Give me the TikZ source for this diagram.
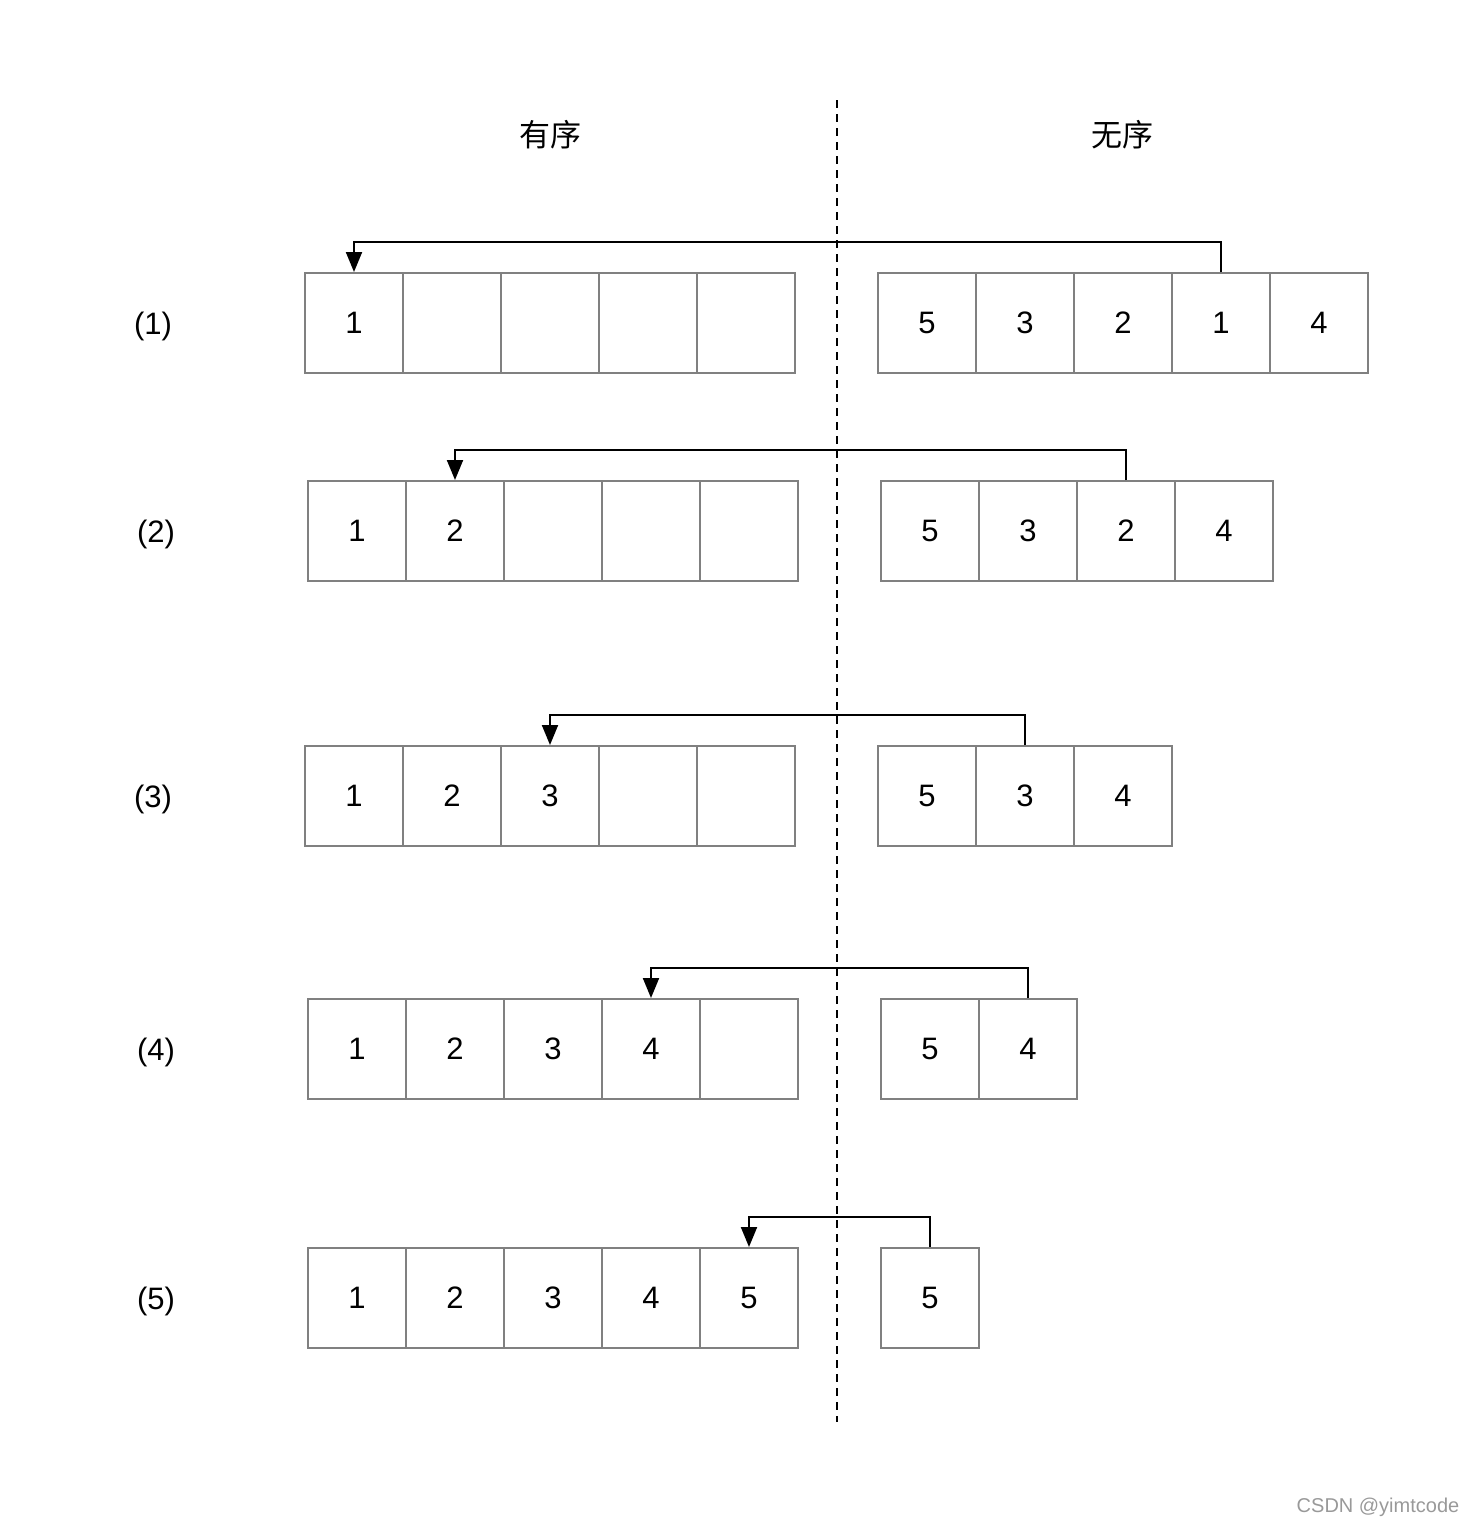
\documentclass[tikz,border=0pt]{standalone}
\usepackage{fontspec}
\setmainfont{Liberation Sans}
\newfontfamily\cjk{Noto Sans CJK SC}
\usetikzlibrary{arrows.meta}

\begin{document}
\begin{tikzpicture}[
  x=0.5pt, y=-0.5pt,
  cell/.style={draw=black!50, line width=1pt, minimum width=49pt, minimum height=50pt, inner sep=0pt, font=\fontsize{15.5}{18}\selectfont},
  tag/.style={font=\fontsize{15.5}{18}\selectfont, yshift=-1.5pt},
  head/.style={font=\cjk\fontsize{15.5}{18}\selectfont},
  arr/.style={-{Triangle[length=10pt, width=8pt]}, line width=1pt}
]
  \useasboundingbox (0,0) rectangle (1470,1528);

  \node[head] (ordered) at (550,135) {有序};
  \node[head] (unordered) at (1122,135) {无序};
  \coordinate (divtop) at (837,100);
  \coordinate (divbot) at (837,1422);
  \draw[dashed, dash pattern=on 4pt off 3pt, line width=1pt] (divtop) -- (divbot);

  % rows: number / y / first left x / first right x / unsorted values
  \foreach \r/\y/\lx/\rx/\rest in {1/323/354/927/{5,3,2,1,4}, 2/531/357/930/{5,3,2,4},
      3/796/354/927/{5,3,4}, 4/1049/357/930/{5,4}, 5/1298/357/930/{5}} {
    \node[tag] (row\r) at (\lx-201,\y) {(\r)};
    \foreach \i in {1,...,5}
      \node[cell] (L\r-\i) at (\lx+98*\i-98,\y) {\ifnum\i>\r\else\i\fi};
    \foreach \v [count=\j] in \rest
      \node[cell] (R\r-\j) at (\rx+98*\j-98,\y) {\v};
  }

  \draw[arr] (R1-4.north) -- ++(0,-30) -| (L1-1.north);
  \draw[arr] (R2-3.north) -- ++(0,-30) -| (L2-2.north);
  \draw[arr] (R3-2.north) -- ++(0,-30) -| (L3-3.north);
  \draw[arr] (R4-2.north) -- ++(0,-30) -| (L4-4.north);
  \draw[arr] (R5-1.north) -- ++(0,-30) -| (L5-5.north);

  \node[text=black!40, font=\fontsize{10}{12}\selectfont] (mark) at (1378,1507) {CSDN @yimtcode};
\end{tikzpicture}
\end{document}
